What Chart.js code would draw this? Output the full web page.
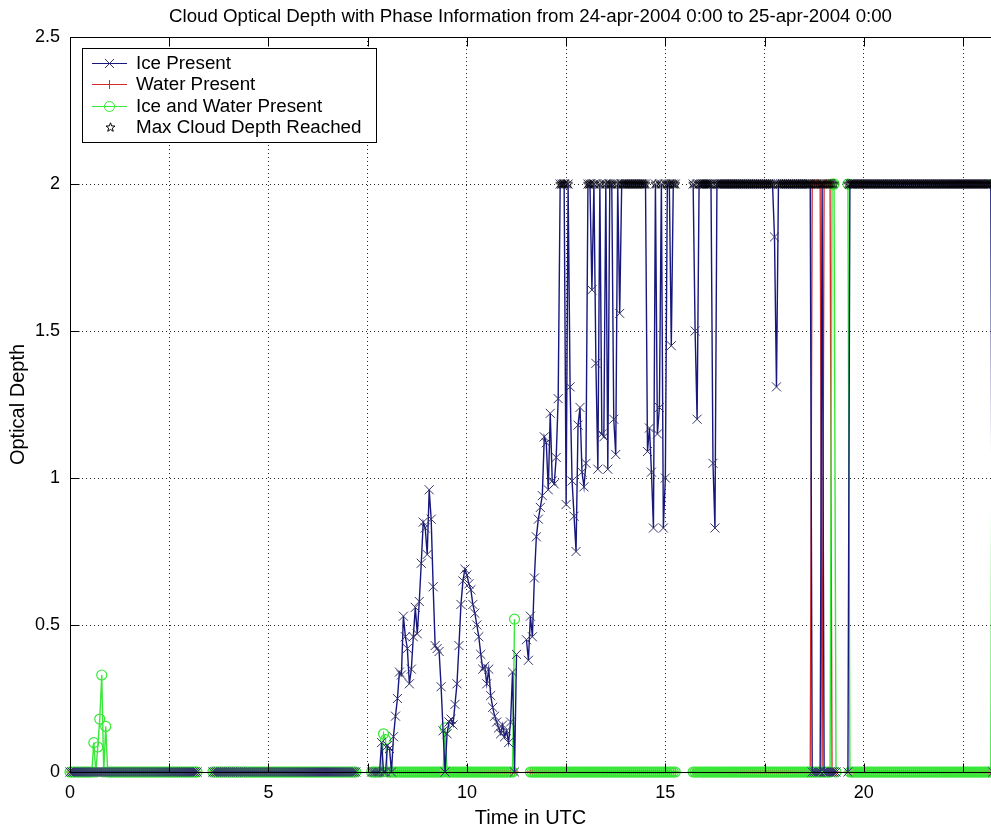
<!DOCTYPE html>
<html>
<head>
<meta charset="utf-8">
<title>Cloud Optical Depth with Phase Information</title>
<script src="https://cdn.jsdelivr.net/npm/chart.js@4.4.1/dist/chart.umd.min.js"></script>
<style>
  html, body { margin: 0; padding: 0; background: #fff; overflow: hidden; }
  #wrap { width: 991px; height: 831px; }
</style>
</head>
<body>
<div id="wrap"><canvas id="odChart" width="991" height="831"></canvas></div>
<script>
// ---- Data: one reading every 3 minutes (0.05 h) from 0:00 UTC ----
const SAMPLE_STEP_H = 0.05;
const N = null; // no data (file boundary)

// Optical depth while only ice is present (0 otherwise)
const icePresent = [
  0,0,0,0,0,0,0,0,0,0,0,0,0,0,0,0,0,0,0,0,
  0,0,0,0,0,0,0,0,0,0,0,0,0,0,0,0,0,0,0,0,
  0,0,0,0,0,0,0,0,0,0,0,0,0,0,0,0,0,0,0,0,
  0,0,0,0,0,N,N,N,N,N,N,N,0,0,0,0,0,0,0,0,
  0,0,0,0,0,0,0,0,0,0,0,0,0,0,0,0,0,0,0,0,
  0,0,0,0,0,0,0,0,0,0,0,0,0,0,0,0,0,0,0,0,
  0,0,0,0,0,0,0,0,0,0,0,0,0,0,0,0,0,0,0,0,
  0,0,0,0,0,N,N,N,N,N,N,N,0,0,0,0,0,0.10,0,0,
  0.09,0.08,0,0.12,0.19,0.25,0.34,0.33,0.53,0.46,0.42,0.30,0.35,0.46,0.56,0.47,0.58,0.71,0.85,0.83,
  0.74,0.96,0.86,0.63,0.43,0.42,0.41,0.29,0.14,0,0.13,0.17,0.18,0.16,0.23,0.30,0.43,0.57,0.65,0.69,
  0.67,0.64,0.62,0.57,0.54,0.50,0.46,0.40,0.35,0.36,0.30,0.35,0.26,0.22,0.19,0.17,0.15,0.13,0.16,0.12,
  0.14,0.10,0.17,0.34,0,0.40,N,N,N,N,0.45,0.38,0.53,0.46,0.66,0.80,0.86,0.90,0.94,1.14,
  1.12,0.96,1.22,0.99,0.98,1.07,1.27,2,2,2,0.91,2,1.31,0.99,0.87,0.75,1.18,1.24,1.02,0.97,
  1.05,2,2,1.64,2,1.39,1.03,2,1.15,1.14,2,1.03,2,2,1.20,1.08,2,1.56,2,2,
  2,2,2,2,2,2,2,2,2,2,2,1.09,1.17,1.02,0.83,2,1.15,1.24,2,0.83,
  1.00,2,2,1.45,2,2,N,N,N,N,N,N,N,N,2,1.50,1.20,2,2,2,
  2,2,2,2,1.05,0.83,2,2,2,2,2,2,2,2,2,2,2,2,2,2,
  2,2,2,2,2,2,2,2,2,2,2,2,2,2,2,1.82,1.31,2,2,2,
  2,2,2,2,2,2,2,2,2,2,2,2,2,2,0,0,0,0,0,2,
  0,0,0,0,0,0,0,N,N,N,N,N,0,2,2,2,2,2,2,2,
  2,2,2,2,2,2,2,2,2,2,2,2,2,2,2,2,2,2,2,2,
  2,2,2,2,2,2,2,2,2,2,2,2,2,2,2,2,2,2,2,2,
  2,2,2,2,2,2,2,2,2,2,2,2,2,2,2,2,2,2,2,2,
  2,2,2,2,2,0
];

// Optical depth while only water is present
const waterPresent = [
  0,0,0,0,0,0,0,0,0,0,0,0,0,0,0,0,0,0,0,0,
  0,0,0,0,0,0,0,0,0,0,0,0,0,0,0,0,0,0,0,0,
  0,0,0,0,0,0,0,0,0,0,0,0,0,0,0,0,0,0,0,0,
  0,0,0,0,0,N,N,N,N,N,N,N,0,0,0,0,0,0,0,0,
  0,0,0,0,0,0,0,0,0,0,0,0,0,0,0,0,0,0,0,0,
  0,0,0,0,0,0,0,0,0,0,0,0,0,0,0,0,0,0,0,0,
  0,0,0,0,0,0,0,0,0,0,0,0,0,0,0,0,0,0,0,0,
  0,0,0,0,0,N,N,N,N,N,N,N,0,0,0,0,0,0,0,0,
  0,0,0,0,0,0,0,0,0,0,0,0,0,0,0,0,0,0,0,0,
  0,0,0,0,0,0,0,0,0,0,0,0,0,0,0,0,0,0,0,0,
  0,0,0,0,0,0,0,0,0,0,0,0,0,0,0,0,0,0,0,0,
  0,0,0,0,0,N,N,N,N,N,N,N,0,0,0,0,0,0,0,0,
  0,0,0,0,0,0,0,0,0,0,0,0,0,0,0,0,0,0,0,0,
  0,0,0,0,0,0,0,0,0,0,0,0,0,0,0,0,0,0,0,0,
  0,0,0,0,0,0,0,0,0,0,0,0,0,0,0,0,0,0,0,0,
  0,0,0,0,0,0,N,N,N,N,N,N,N,N,0,0,0,0,0,0,
  0,0,0,0,0,0,0,0,0,0,0,0,0,0,0,0,0,0,0,0,
  0,0,0,0,0,0,0,0,0,0,0,0,0,0,0,0,0,0,0,0,
  0,0,0,0,0,0,0,0,0,0,0,0,0,0,2,2,2,2,2,0,
  2,2,2,2,0,0,0,N,N,N,N,N,0,0,0,0,0,0,0,0,
  0,0,0,0,0,0,0,0,0,0,0,0,0,0,0,0,0,0,0,0,
  0,0,0,0,0,0,0,0,0,0,0,0,0,0,0,0,0,0,0,0,
  0,0,0,0,0,0,0,0,0,0,0,0,0,0,0,0,0,0,0,0,
  0,0,0,0,0,0
];

// Optical depth while ice and water are both present
const iceAndWater = [
  0,0,0,0,0,0,0,0,0,0,0,0,0.10,0,0.085,0.18,0.33,0,0.155,0,
  0,0,0,0,0,0,0,0,0,0,0,0,0,0,0,0,0,0,0,0,
  0,0,0,0,0,0,0,0,0,0,0,0,0,0,0,0,0,0,0,0,
  0,0,0,0,0,N,N,N,N,N,N,N,0,0,0,0,0,0,0,0,
  0,0,0,0,0,0,0,0,0,0,0,0,0,0,0,0,0,0,0,0,
  0,0,0,0,0,0,0,0,0,0,0,0,0,0,0,0,0,0,0,0,
  0,0,0,0,0,0,0,0,0,0,0,0,0,0,0,0,0,0,0,0,
  0,0,0,0,0,N,N,N,N,N,N,N,0,0,0,0,0,0,0.13,0.11,
  0,0,0,0,0,0,0,0,0,0,0,0,0,0,0,0,0,0,0,0,
  0,0,0,0,0,0,0,0,0,0.15,0,0,0,0,0,0,0,0,0,0,
  0,0,0,0,0,0,0,0,0,0,0,0,0,0,0,0,0,0,0,0,
  0,0,0,0,0.52,N,N,N,N,N,N,N,0,0,0,0,0,0,0,0,
  0,0,0,0,0,0,0,0,0,0,0,0,0,0,0,0,0,0,0,0,
  0,0,0,0,0,0,0,0,0,0,0,0,0,0,0,0,0,0,0,0,
  0,0,0,0,0,0,0,0,0,0,0,0,0,0,0,0,0,0,0,0,
  0,0,0,0,0,0,N,N,N,N,N,N,N,N,0,0,0,0,0,0,
  0,0,0,0,0,0,0,0,0,0,0,0,0,0,0,0,0,0,0,0,
  0,0,0,0,0,0,0,0,0,0,0,0,0,0,0,0,0,0,0,0,
  0,0,0,0,0,0,0,0,0,0,0,0,0,0,0,0,0,0,0,0,
  0,0,0,0,2,2,0,N,N,N,N,N,2,0,0,0,0,0,0,0,
  0,0,0,0,0,0,0,0,0,0,0,0,0,0,0,0,0,0,0,0,
  0,0,0,0,0,0,0,0,0,0,0,0,0,0,0,0,0,0,0,0,
  0,0,0,0,0,0,0,0,0,0,0,0,0,0,0,0,0,0,0,0,
  0,0,0,0,0,2
];

// Retrieval ceiling: readings at this depth are flagged with a star
const MAX_CLOUD_DEPTH = 2;

const seriesNames = ['Ice Present', 'Water Present', 'Ice and Water Present', 'Max Cloud Depth Reached'];
const xTickLabels = ['0', '5', '10', '15', '20'];
const yTickLabels = ['0', '0.5', '1', '1.5', '2', '2.5'];
const chartTitle = 'Cloud Optical Depth with Phase Information from 24-apr-2004 0:00 to 25-apr-2004 0:00';
const xAxisTitle = 'Time in UTC';
const yAxisTitle = 'Optical Depth';

// Sample clock (hours UTC)
const times = icePresent.map((_, i) => Math.round(i * SAMPLE_STEP_H * 100) / 100);
const maxReached = times.map((t, i) =>
  (icePresent[i] === MAX_CLOUD_DEPTH || waterPresent[i] === MAX_CLOUD_DEPTH || iceAndWater[i] === MAX_CLOUD_DEPTH)
    ? MAX_CLOUD_DEPTH : null);

const toPoints = arr => arr.map((v, i) => ({ x: times[i], y: v }));

// ---- Styling ----
const FONT = "'Liberation Sans', Arial, Helvetica, sans-serif";
const ICE_LINE = '#17177e', ICE_MARK = '#33336a';
const WATER_LINE = '#d42a2a';
const MIX_LINE = '#38e838';

// Five-pointed star marker drawn once on a small canvas
function pentagram(size, color) {
  const c = document.createElement('canvas');
  c.width = c.height = size;
  const g = c.getContext('2d');
  const cx = size / 2, cy = size / 2, R = size / 2 - 0.8, r = R * 0.42;
  g.beginPath();
  for (let k = 0; k < 10; k++) {
    const a = -Math.PI / 2 + k * Math.PI / 5;
    const rad = k % 2 ? r : R;
    g.lineTo(cx + rad * Math.cos(a), cy + rad * Math.sin(a));
  }
  g.closePath();
  g.strokeStyle = color;
  g.lineWidth = 1;
  g.stroke();
  return c;
}
const starMarker = pentagram(11, '#000');

// order: lower values are painted last (on top)
const datasets = [
  {
    label: seriesNames[0], data: toPoints(icePresent), order: 1,
    borderColor: ICE_LINE, borderWidth: 1.4,
    pointStyle: 'crossRot', pointRadius: 6.4, pointBorderColor: ICE_MARK, pointBorderWidth: 1,
    pointBackgroundColor: 'transparent'
  },
  {
    label: seriesNames[1], data: toPoints(waterPresent), order: 3,
    borderColor: WATER_LINE, borderWidth: 1.3,
    pointStyle: 'cross', pointRadius: 4.5, pointBorderColor: WATER_LINE, pointBorderWidth: 1,
    pointBackgroundColor: 'transparent'
  },
  {
    label: seriesNames[2], data: toPoints(iceAndWater), order: 2,
    borderColor: MIX_LINE, borderWidth: 1.4,
    pointStyle: 'circle', pointRadius: 5, pointBorderColor: MIX_LINE, pointBorderWidth: 1.2,
    pointBackgroundColor: 'transparent'
  },
  {
    label: seriesNames[3], data: toPoints(maxReached), order: 0,
    showLine: false, borderColor: '#000',
    pointStyle: starMarker, pointRadius: 5
  }
];
datasets.forEach(d => { d.clip = false; d.tension = 0; d.spanGaps = false; d.fill = false; });

// Axis box, drawn above the data; tick marks point inward
const TICK_LEN = 9;
const axisFrame = {
  id: 'axisFrame',
  afterDatasetsDraw(chart) {
    const { ctx, chartArea: a, scales: { x, y } } = chart;
    ctx.save();
    ctx.strokeStyle = '#000';
    ctx.lineWidth = 1;
    ctx.beginPath();
    const L = Math.round(a.left) + 0.5, B = Math.round(a.bottom) + 0.5, T = Math.round(a.top) + 0.5;
    ctx.moveTo(L, T); ctx.lineTo(L, B);
    ctx.moveTo(L, B); ctx.lineTo(a.right, B);
    ctx.moveTo(L, T); ctx.lineTo(a.right, T);
    x.ticks.forEach(t => {
      const px = Math.round(x.getPixelForValue(t.value)) + 0.5;
      ctx.moveTo(px, B); ctx.lineTo(px, B - TICK_LEN);
      ctx.moveTo(px, T); ctx.lineTo(px, T + TICK_LEN);
    });
    y.ticks.forEach(t => {
      const py = Math.round(y.getPixelForValue(t.value)) + 0.5;
      ctx.moveTo(L, py); ctx.lineTo(L + TICK_LEN, py);
    });
    ctx.stroke();
    ctx.restore();
  }
};

// Boxed legend in the upper-left corner of the plot
function drawMarker(ctx, ds, x, y) {
  const style = ds.pointStyle, r = ds.pointRadius;
  ctx.save();
  ctx.strokeStyle = ds.pointBorderColor || ds.borderColor;
  ctx.lineWidth = 1;
  ctx.beginPath();
  if (style === 'crossRot') {
    const o = r * Math.SQRT1_2;
    ctx.moveTo(x - o, y - o); ctx.lineTo(x + o, y + o);
    ctx.moveTo(x - o, y + o); ctx.lineTo(x + o, y - o);
    ctx.stroke();
  } else if (style === 'cross') {
    ctx.moveTo(x - r, y); ctx.lineTo(x + r, y);
    ctx.moveTo(x, y - r); ctx.lineTo(x, y + r);
    ctx.stroke();
  } else if (style === 'circle') {
    ctx.arc(x, y, r, 0, Math.PI * 2);
    ctx.stroke();
  } else if (style && style.width) {
    ctx.drawImage(style, Math.round(x - style.width / 2), Math.round(y - style.height / 2));
  }
  ctx.restore();
}

const legendBox = {
  id: 'legendBox',
  afterDraw(chart) {
    const { ctx, chartArea: a } = chart;
    const bx = Math.round(a.left) + 12.5, by = Math.round(a.top) + 11.5, bw = 294, bh = 94;
    ctx.save();
    ctx.fillStyle = '#fff';
    ctx.fillRect(bx, by, bw, bh);
    ctx.strokeStyle = '#000';
    ctx.lineWidth = 1;
    ctx.strokeRect(bx, by, bw, bh);
    ctx.font = '18.8px ' + FONT;
    ctx.fillStyle = '#000';
    ctx.textBaseline = 'middle';
    ctx.textAlign = 'left';
    const rowY = [14.2, 35.8, 57.5, 78.8];
    chart.data.datasets.forEach((ds, i) => {
      const y = by + rowY[i];
      const x0 = bx + 9.5, x1 = bx + 44.5, xm = bx + 27;
      if (ds.showLine !== false) {
        ctx.save();
        ctx.strokeStyle = ds.borderColor;
        ctx.lineWidth = 1.2;
        ctx.beginPath();
        ctx.moveTo(x0, Math.round(y) + 0.5);
        ctx.lineTo(x1, Math.round(y) + 0.5);
        ctx.stroke();
        ctx.restore();
      }
      drawMarker(ctx, ds, ds.showLine === false ? xm + 1 : xm, Math.round(y) + 0.5);
      ctx.fillText(ds.label, bx + 53.5, y + 1);
    });
    ctx.restore();
  }
};

const tickFont = { family: FONT, size: 18 };
const axisTitleFont = { family: FONT, size: 20 };

new Chart(document.getElementById('odChart'), {
  type: 'line',
  data: { datasets },
  options: {
    responsive: false,
    animation: false,
    devicePixelRatio: 1,
    events: [],
    layout: { padding: 0, autoPadding: false },
    plugins: {
      legend: { display: false },
      tooltip: { enabled: false },
      title: {
        display: true, text: chartTitle, fullSize: false, color: '#000',
        font: { family: FONT, size: 18.7, weight: 'normal' },
        padding: { top: 6, bottom: 8.6 }
      }
    },
    scales: {
      x: {
        type: 'linear', min: 0, max: 23.205,
        afterFit(scale) { scale.height = 59; scale.paddingLeft = 0; scale.paddingRight = 0; },
        ticks: {
          stepSize: 2.5, includeBounds: false, autoSkip: false, maxRotation: 0,
          padding: 10, color: '#000', font: tickFont,
          callback: v => (xTickLabels.includes(String(v)) ? String(v) : '')
        },
        grid: { color: 'rgba(0,0,0,0.85)', lineWidth: 1, drawTicks: false },
        border: { display: false, dash: [1, 3] },
        title: { display: true, text: xAxisTitle, color: '#000', font: axisTitleFont, padding: { top: 0, bottom: 0.5 } }
      },
      y: {
        type: 'linear', min: 0, max: 2.5,
        afterFit(scale) { scale.width = 70; },
        ticks: {
          stepSize: 0.5, padding: 10, color: '#000', font: tickFont,
          callback: (v, i) => yTickLabels[i]
        },
        grid: { color: 'rgba(0,0,0,0.85)', lineWidth: 1, drawTicks: false },
        border: { display: false, dash: [1, 3] },
        title: { display: true, text: yAxisTitle, color: '#000', font: axisTitleFont, padding: { top: 6.5, bottom: 0 } }
      }
    }
  },
  plugins: [axisFrame, legendBox]
});
</script>
</body>
</html>
